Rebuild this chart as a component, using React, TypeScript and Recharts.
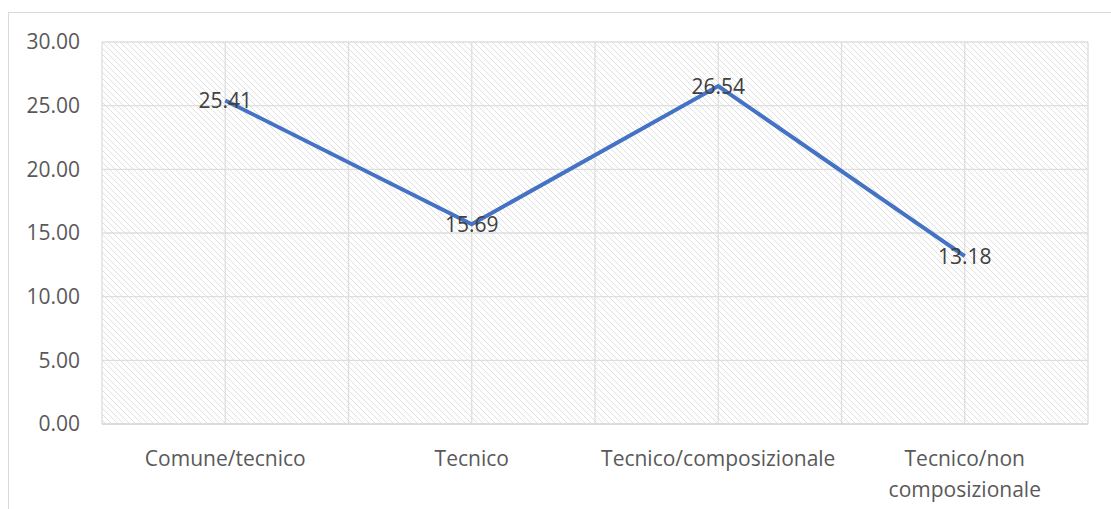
import { LineChart, Line, XAxis, YAxis, CartesianGrid, LabelList } from "recharts";

const categories = ["Comune/tecnico", "Tecnico", "Tecnico/composizionale", "Tecnico/non composizionale"];
const values = [25.41, 15.69, 26.54, 13.18];
const yTicks = [0, 5, 10, 15, 20, 25, 30];
// category centres sit on odd half-steps, grid lines on every half-step
const catPos = [1, 3, 5, 7];
const gridPos = [0, 1, 2, 3, 4, 5, 6, 7, 8];

const data = categories.map((c, idx) => ({ i: catPos[idx], label: c, value: values[idx] }));

const FONT = "'Open Sans', sans-serif";

// wraps "Tecnico/non composizionale" on two lines like the original
const CatTick = (props: any) => {
  const { x, y, payload } = props;
  const idx = catPos.indexOf(payload.value);
  const text = categories[idx] ?? "";
  const lines = text.length > 22 ? text.split(" ") : [text];
  return (
    <text x={x} y={y} textAnchor="middle" fill="#595959" fontSize={21} fontFamily={FONT}>
      {lines.map((l, k) => (
        <tspan key={k} x={x} dy={k === 0 ? 34 : 31}>{l}</tspan>
      ))}
    </text>
  );
};

export default function App() {
  return (
    <div style={{ position: "absolute", left: 0, top: 0, width: 1111, height: 509, overflow: "hidden", background: "#fff" }}>
      <div style={{ position: "absolute", left: 8, top: 12, width: 1200, height: 600, border: "1px solid #d9d9d9" }} />
      <LineChart
        width={1111}
        height={509}
        data={data}
        margin={{ top: 42, right: 23, bottom: 0, left: 0 }}
        style={{ position: "absolute", left: 0, top: 0 }}
      >
        <defs>
          <pattern id="hatch" patternUnits="userSpaceOnUse" width="6" height="6">
            <rect width="6" height="6" fill="#ffffff" />
            <path d="M0,0 L6,6 M-1,5 L1,7 M5,-1 L7,1" stroke="#e0e0e0" strokeWidth={1} />
          </pattern>
        </defs>
        <XAxis xAxisId="grid" type="number" dataKey="i" domain={[0, 8]} ticks={gridPos} hide />
        <CartesianGrid xAxisId="grid" stroke="#dedede" strokeWidth={1.3} fill="url(#hatch)" fillOpacity={1} />
        <XAxis
          type="number"
          dataKey="i"
          domain={[0, 8]}
          ticks={catPos}
          interval={0}
          height={85}
          tickLine={false}
          axisLine={{ stroke: "#d9d9d9", strokeWidth: 1.3 }}
          tick={<CatTick />}
        />
        <YAxis
          width={102}
          domain={[0, 30]}
          ticks={yTicks}
          interval={0}
          axisLine={false}
          tickLine={false}
          tickMargin={16}
          tickFormatter={(v) => Number(v).toFixed(2)}
          tick={{ fill: "#595959", fontSize: 21, fontFamily: FONT }}
        />
        <Line
          dataKey="value"
          stroke="#4472c4"
          strokeWidth={4}
          dot={false}
          isAnimationActive={false}
        >
          <LabelList
            dataKey="value"
            position="center"
            formatter={(v: any) => Number(v).toFixed(2)}
            fill="#404040"
            fontSize={21}
            fontFamily={FONT}
          />
        </Line>
      </LineChart>
    </div>
  );
}
